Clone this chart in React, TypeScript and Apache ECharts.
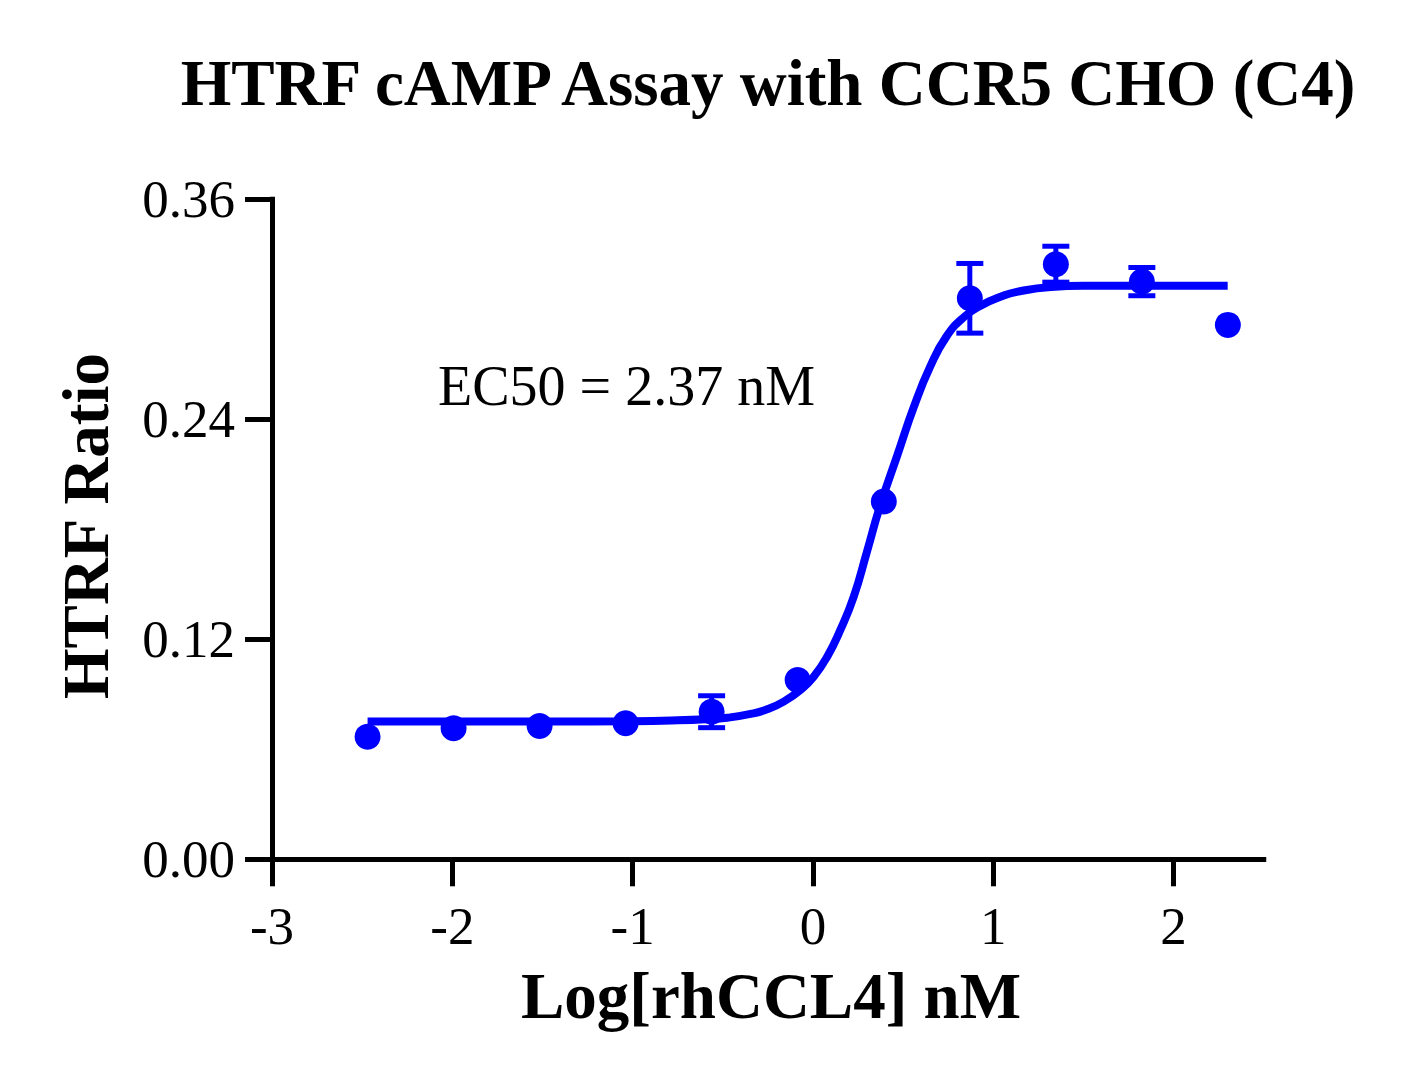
import React, { useEffect, useRef } from "react";
import * as echarts from "echarts";

const titleText = "HTRF cAMP Assay with CCR5 CHO (C4)";
const xAxisName = "Log[rhCCL4] nM";
const yAxisName = "HTRF Ratio";
const ec50Label = "EC50 = 2.37 nM";

// mean points (log nM, ratio)
const pointX = [-2.47, -1.993, -1.516, -1.039, -0.562, -0.085, 0.393, 0.87, 1.347, 1.824, 2.301];
const pointY = [0.0669, 0.0715, 0.0727, 0.0742, 0.0805, 0.0978, 0.1951, 0.306, 0.3246, 0.3151, 0.2915];
// error half-widths (0 where no bar visible)
const pointErr = [0, 0, 0, 0, 0.0087, 0, 0, 0.019, 0.0098, 0.0077, 0];

// fitted curve
const curveX = [-2.47, -2.0, -1.5, -1.0, -0.75, -0.56, -0.475, -0.346, -0.254, -0.162, -0.069, 0.004, 0.079, 0.152, 0.226, 0.3, 0.37, 0.47, 0.56, 0.65, 0.74, 0.84, 0.93, 1.04, 1.13, 1.32, 1.5, 1.87, 2.3];
const curveY = [0.0751, 0.0751, 0.0751, 0.0753, 0.0758, 0.0766, 0.0772, 0.0793, 0.0818, 0.086, 0.0924, 0.0996, 0.1105, 0.1251, 0.1432, 0.168, 0.192, 0.221, 0.2469, 0.2687, 0.2851, 0.296, 0.302, 0.3068, 0.3095, 0.3122, 0.3128, 0.3128, 0.3128];

const xMin = -3;
const xMax = 2.5;
const xTicks = [-3, -2, -1, 0, 1, 2];
const yMin = 0;
const yMax = 0.36;
const yStep = 0.12;

const BLUE = "#0000FF";
const FONT = "'Liberation Serif', 'Times New Roman', Times, serif";

export default function App() {
  const ref = useRef<HTMLDivElement>(null);

  useEffect(() => {
    document.body.style.margin = "0";
    if (!ref.current) return;
    const chart = echarts.init(ref.current, null, { renderer: "svg" });

    const errData = pointX
      .map((x, i) => [x, pointY[i] - pointErr[i], pointY[i] + pointErr[i], pointErr[i]])
      .filter((d) => d[3] > 0);

    const option: any = {
      animation: false,
      backgroundColor: "#ffffff",
      grid: {
        left: 272,
        top: 199.3,
        right: 161.25,
        bottom: 220.7,
        containLabel: false,
        outerBoundsMode: "none",
      },
      xAxis: {
        type: "value",
        min: xMin,
        max: xMax,
        splitLine: { show: false },
        axisLine: { show: true, onZero: false, lineStyle: { color: "#000", width: 5, cap: "square" } },
        axisTick: {
          show: true,
          length: 27,
          inside: false,
          customValues: xTicks,
          lineStyle: { color: "#000", width: 5 },
        },
        axisLabel: {
          color: "#000",
          fontSize: 53,
          fontFamily: FONT,
          margin: 40,
          customValues: xTicks,
          formatter: (v: number) => String(v),
        },
      },
      yAxis: {
        type: "value",
        min: yMin,
        max: yMax,
        interval: yStep,
        splitLine: { show: false },
        axisLine: { show: true, onZero: false, lineStyle: { color: "#000", width: 5, cap: "square" } },
        axisTick: { show: true, length: 27, inside: false, lineStyle: { color: "#000", width: 5 } },
        axisLabel: {
          color: "#000",
          fontSize: 53,
          fontFamily: FONT,
          margin: 37,
          formatter: (v: number) => v.toFixed(2),
        },
      },
      graphic: [
        {
          type: "text",
          x: 768,
          y: 83,
          style: {
            text: titleText,
            fontSize: 65,
            fontWeight: "bold",
            fontFamily: FONT,
            fill: "#000",
            textAlign: "center",
            textVerticalAlign: "middle",
          },
        },
        {
          type: "text",
          x: 771,
          y: 996,
          style: {
            text: xAxisName,
            fontSize: 65,
            fontWeight: "bold",
            fontFamily: FONT,
            fill: "#000",
            textAlign: "center",
            textVerticalAlign: "middle",
          },
        },
        {
          type: "text",
          x: 86,
          y: 526,
          rotation: Math.PI / 2,
          style: {
            text: yAxisName,
            fontSize: 65,
            fontWeight: "bold",
            fontFamily: FONT,
            fill: "#000",
            textAlign: "center",
            textVerticalAlign: "middle",
          },
        },
        {
          type: "text",
          x: 438,
          y: 386,
          style: {
            text: ec50Label,
            fontSize: 56,
            fontFamily: FONT,
            fill: "#000",
            textAlign: "left",
            textVerticalAlign: "middle",
          },
        },
      ],
      series: [
        {
          type: "line",
          name: "fit",
          data: curveX.map((x, i) => [x, curveY[i]]),
          showSymbol: false,
          smooth: 0.5,
          lineStyle: { color: BLUE, width: 8, opacity: 1 },
          z: 2,
        },
        {
          type: "custom",
          name: "err",
          data: errData,
          z: 3,
          renderItem: (params: any, api: any) => {
            const x = api.value(0);
            const lo = api.coord([x, api.value(1)]);
            const hi = api.coord([x, api.value(2)]);
            const half = 13.5;
            const st = { stroke: BLUE, lineWidth: 5 };
            return {
              type: "group",
              children: [
                { type: "line", shape: { x1: lo[0], y1: lo[1], x2: hi[0], y2: hi[1] }, style: st },
                { type: "line", shape: { x1: lo[0] - half, y1: lo[1], x2: lo[0] + half, y2: lo[1] }, style: st },
                { type: "line", shape: { x1: hi[0] - half, y1: hi[1], x2: hi[0] + half, y2: hi[1] }, style: st },
              ],
            };
          },
        },
        {
          type: "scatter",
          name: "mean",
          data: pointX.map((x, i) => [x, pointY[i]]),
          symbol: "circle",
          symbolSize: 26,
          itemStyle: { color: BLUE, opacity: 1 },
          z: 4,
        },
      ],
    };

    chart.setOption(option);
    return () => chart.dispose();
  }, []);

  return (
    <div
      ref={ref}
      style={{ position: "absolute", left: 0, top: 0, width: 1425, height: 1080, background: "#fff" }}
    />
  );
}
